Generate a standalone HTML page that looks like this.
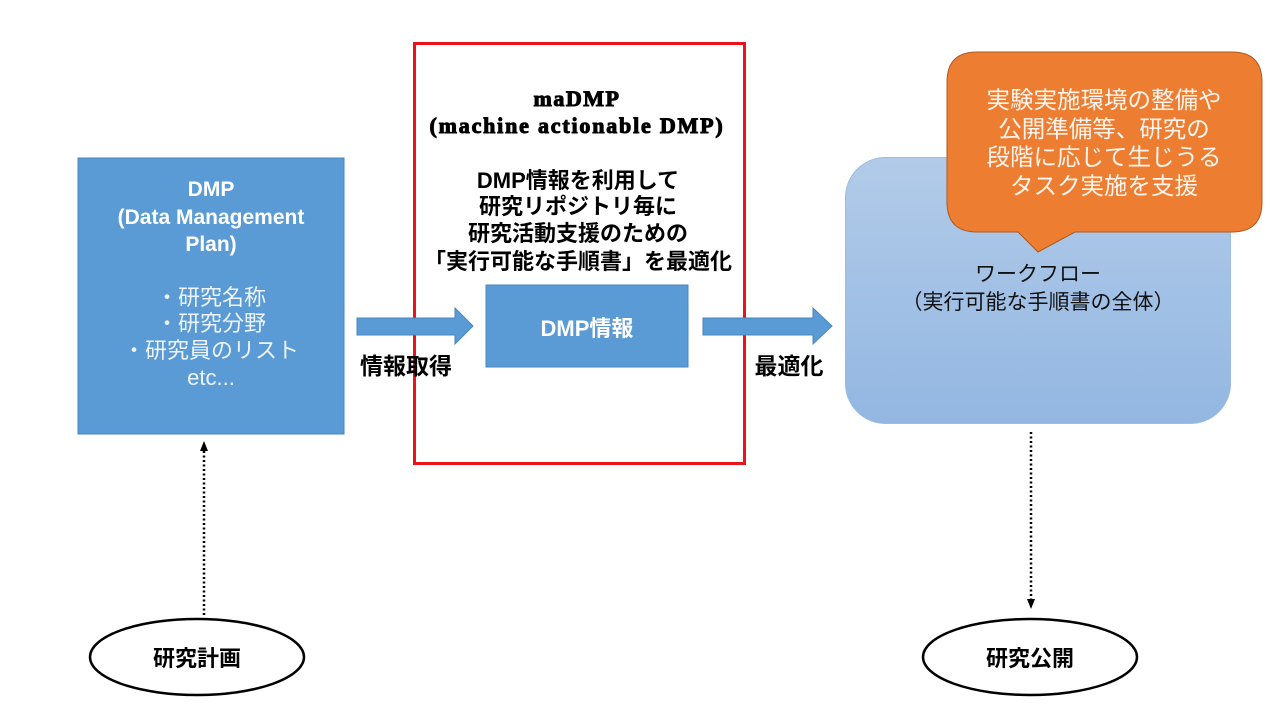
<!DOCTYPE html>
<html><head><meta charset="utf-8"><style>
html,body{margin:0;padding:0;background:#fff;}
svg{display:block;}
text{font-family:"Liberation Sans","Noto Sans CJK JP",sans-serif;}
text.serif{font-family:"Liberation Serif","Noto Serif CJK SC",serif;}
</style></head><body>
<svg width="1280" height="720" viewBox="0 0 1280 720" xmlns="http://www.w3.org/2000/svg">
<defs>
<linearGradient id="g" x1="0" y1="0" x2="0" y2="1">
<stop offset="0" stop-color="#b2cbe9"/><stop offset="1" stop-color="#93b7e2"/>
</linearGradient>
</defs>
<rect x="78" y="158" width="266" height="276" fill="#5b9bd5" stroke="#4a86bd" stroke-width="1"/>
<g fill="#fff" text-anchor="middle">
<text x="211" y="196" font-weight="bold" font-size="21">DMP</text>
<text x="211" y="224" font-weight="bold" font-size="21">(Data Management</text>
<text x="211" y="251" font-weight="bold" font-size="21">Plan)</text>
<text x="211" y="305" fill="#eef3fa" font-size="22">・研究名称</text>
<text x="211" y="331" fill="#eef3fa" font-size="22">・研究分野</text>
<text x="211" y="358" fill="#eef3fa" font-size="22">・研究員のリスト</text>
<text x="211" y="385" fill="#eef3fa" font-size="22">etc...</text>
</g>
<rect x="414.5" y="43.5" width="330" height="420" fill="none" stroke="#e8141a" stroke-width="3"/>
<g text-anchor="middle" fill="#000">
<text class="serif" x="577" y="106" font-size="22" font-weight="bold" letter-spacing="1.5" stroke="#000" stroke-width="1">maDMP</text>
<text class="serif" x="577" y="133" font-size="22" font-weight="bold" letter-spacing="1.8" stroke="#000" stroke-width="1">(machine actionable DMP)</text>
<text x="578" y="188" font-size="22" font-weight="bold">DMP情報を利用して</text>
<text x="578" y="214" font-size="22" font-weight="bold">研究リポジトリ毎に</text>
<text x="578" y="241" font-size="22" font-weight="bold">研究活動支援のための</text>
<text x="578" y="269" font-size="22" font-weight="bold">「実行可能な手順書」を最適化</text>
</g>
<rect x="486" y="285" width="202" height="82" fill="#5b9bd5" stroke="#4a86bd"/>
<text x="587" y="336" text-anchor="middle" font-size="22" font-weight="bold" fill="#fff">DMP情報</text>
<polygon points="357,318 455,318 455,308 473,326 455,344 455,335 357,335" fill="#5b9bd5" stroke="#4a86bd"/>
<polygon points="703,318 813,318 813,308 832,326 813,344 813,335 703,335" fill="#5b9bd5" stroke="#4a86bd"/>
<text x="406" y="374" text-anchor="middle" font-size="23" font-weight="bold">情報取得</text>
<text x="789" y="374" text-anchor="middle" font-size="23" font-weight="bold">最適化</text>
<rect x="845.5" y="157.5" width="385" height="266" rx="40" fill="url(#g)" stroke="#9bbbe0"/>
<text x="1038" y="281" text-anchor="middle" font-size="21" fill="#111">ワークフロー</text>
<text x="1038" y="309" text-anchor="middle" font-size="21" fill="#111">（実行可能な手順書の全体）</text>
<path d="M977,52 H1232 Q1262,52 1262,82 V202 Q1262,232 1232,232 H1075 L1038,252 L1018,232 H977 Q947,232 947,202 V82 Q947,52 977,52 Z" fill="#ed7d31" stroke="#ae5a21" stroke-width="1"/>
<g fill="#fff5ee" text-anchor="middle" font-size="23.5">
<text x="1104" y="108">実験実施環境の整備や</text>
<text x="1104" y="137">公開準備等、研究の</text>
<text x="1104" y="165">段階に応じて生じうる</text>
<text x="1104" y="194">タスク実施を支援</text>
</g>
<line x1="204" y1="615" x2="204" y2="450" stroke="#000" stroke-width="2.5" stroke-dasharray="2,2.5"/>
<polygon points="204,441 200,451 208,451" fill="#000"/>
<line x1="1031" y1="432" x2="1031" y2="600" stroke="#000" stroke-width="2.5" stroke-dasharray="2,2.5"/>
<polygon points="1031,609 1027,599 1035,599" fill="#000"/>
<ellipse cx="197" cy="657" rx="107" ry="38" fill="#fff" stroke="#000" stroke-width="2.5"/>
<text x="197" y="666" text-anchor="middle" font-size="22" font-weight="bold">研究計画</text>
<ellipse cx="1030" cy="657" rx="107" ry="38" fill="#fff" stroke="#000" stroke-width="2.5"/>
<text x="1030" y="666" text-anchor="middle" font-size="22" font-weight="bold">研究公開</text>
</svg>
</body></html>
